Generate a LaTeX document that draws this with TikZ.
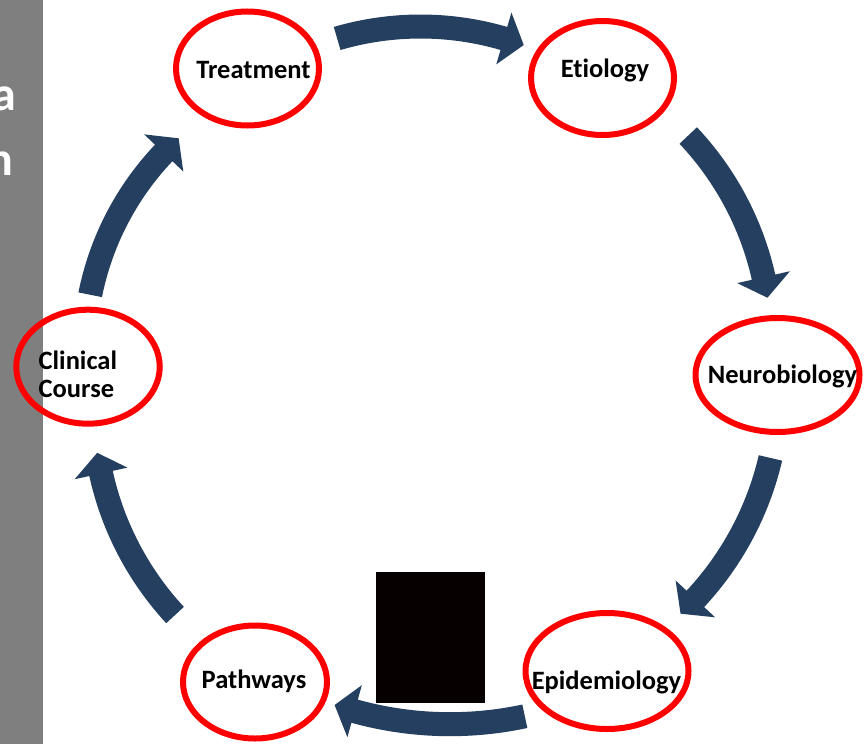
\documentclass[tikz,border=0pt]{standalone}
\usepackage{fontspec}
\setmainfont{Carlito}[Ligatures=NoCommon]
\usetikzlibrary{shapes.geometric}
\definecolor{arrowblue}{HTML}{243F60}
\definecolor{ringred}{HTML}{FF0000}
\definecolor{bargray}{HTML}{7F7F7F}
\definecolor{boxblack}{HTML}{070000}
\tikzset{
  ring/.style={ellipse, draw=ringred, line width=6pt, inner sep=0pt, fill=none},
  lbl/.style={inner sep=0pt, anchor=base, font=\fontsize{26.5}{31}\selectfont\bfseries},
  lblw/.style={inner sep=0pt, anchor=base west, font=\fontsize{26.5}{31}\selectfont\bfseries},
  barlbl/.style={inner sep=0pt, anchor=base east, text=white, font=\fontsize{48}{56}\selectfont\bfseries},
  arrowfill/.style={fill=arrowblue}
}
\newcommand{\blockarc}[5]{%
  \pgfmathsetmacro{\bkRo}{#3+12}\pgfmathsetmacro{\bkRi}{#3-12}%
  \pgfmathsetmacro{\bkHo}{#3+27}\pgfmathsetmacro{\bkHi}{#3-27}%
  \pgfmathsetmacro{\bkTip}{#5+1200/#3}%
  \fill[arrowfill,shift={(#1,#2)}] (#4:\bkRo) arc[start angle=#4,end angle=#5,radius=\bkRo]
    -- (#5:\bkHo) -- (\bkTip:#3) -- (#5:\bkHi) -- (#5:\bkRi)
    arc[start angle=#5,end angle=#4,radius=\bkRi] -- cycle;}
\begin{document}
\begin{tikzpicture}[x=1pt,y=-1pt]
\useasboundingbox (0,0) rectangle (864,744);
\fill[white] (0,0) rectangle (864,744);
% left gray bar with clipped title letters
\fill[bargray] (0,0) rectangle (43,744);
\begin{scope}
\clip (0,0) rectangle (43,744);
\node[barlbl] (barA) at (16,110) {a};
\node[barlbl] (barN) at (13,175) {n};
\end{scope}
% curved block arrows
\blockarc{420.5}{323.5}{297}{-106.3}{-73.7}
\blockarc{467}{344}{304}{-43.3}{-12.7}
\blockarc{469}{387.8}{309.5}{13.1}{43}
\blockarc{450}{367.2}{357}{77.9}{105.5}
\blockarc{398.6}{408}{304.7}{137.2}{167.6}
\blockarc{372.6}{351.2}{288}{191.3}{223.5}
% rings
\node[ring, minimum width=143pt, minimum height=114pt] (treat) at (247.5,68.5) {};
\node[ring, minimum width=143pt, minimum height=114pt] (etio) at (602.5,78) {};
\node[ring, minimum width=164pt, minimum height=114pt] (neuro) at (777.5,375) {};
\node[ring, minimum width=163pt, minimum height=116pt] (epid) at (607,671) {};
\node[ring, minimum width=144pt, minimum height=113pt] (path) at (255,682) {};
\node[ring, minimum width=143.5pt, minimum height=114pt] (clin) at (88,366.7) {};
% labels
\node[lbl] (treatL) at (253.5,78) {Treatment};
\node[lbl] (etioL) at (605,77.3) {Etiology};
\node[lbl] (neuroL) at (782.5,383) {Neurobiology};
\node[lbl] (epidL) at (606.5,689) {Epidemiology};
\node[lbl] (pathL) at (254,688) {Pathways};
\node[lblw] (clinL1) at (38.5,369.5) {Clinical};
\node[lblw] (clinL2) at (38.5,397.5) {Course};
% black box
\node[fill=boxblack, inner sep=0pt, minimum width=109pt, minimum height=131pt] (blackbox) at (430.5,637.5) {};
\end{tikzpicture}
\end{document}
